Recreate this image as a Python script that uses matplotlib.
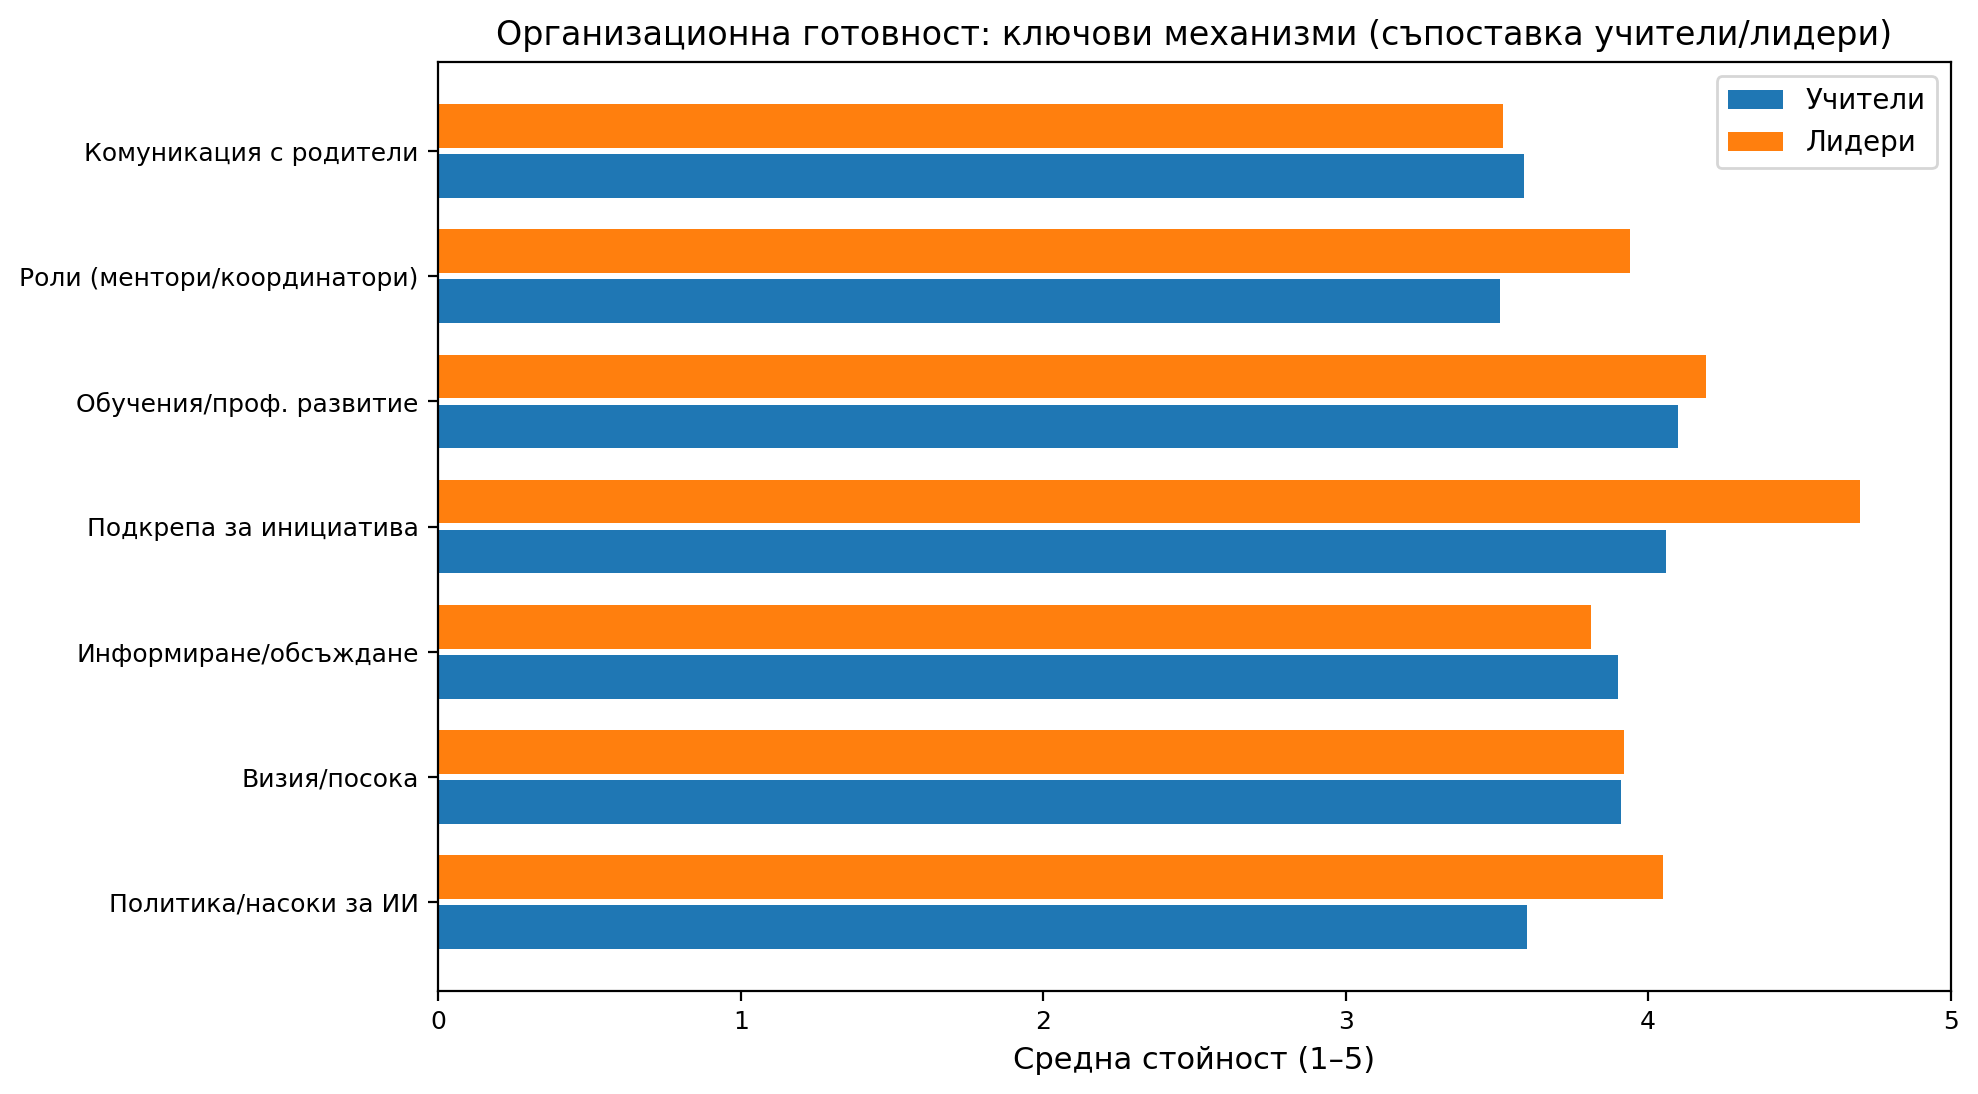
import matplotlib
matplotlib.use("Agg")
import matplotlib.pyplot as plt
import numpy as np

categories = [
    "Политика/насоки за ИИ",
    "Визия/посока",
    "Информиране/обсъждане",
    "Подкрепа за инициатива",
    "Обучения/проф. развитие",
    "Роли (ментори/координатори)",
    "Комуникация с родители",
]
teachers = [3.60, 3.91, 3.90, 4.06, 4.10, 3.51, 3.59]
leaders = [4.05, 3.92, 3.81, 4.70, 4.19, 3.94, 3.52]
series_labels = ["Учители", "Лидери"]

fig, ax = plt.subplots(figsize=(1978 / 200, 1094 / 200), dpi=200)
y = np.arange(len(categories))
h = 0.35
ax.barh(y - 0.2, teachers, height=h, color="#1f77b4", label=series_labels[0])
ax.barh(y + 0.2, leaders, height=h, color="#ff7f0e", label=series_labels[1])
ax.set_yticks(y)
ax.set_yticklabels(categories)
ax.set_xlim(0, 5)
ax.set_xlabel("Средна стойност (1–5)", fontsize=11)
ax.set_title("Организационна готовност: ключови механизми (съпоставка учители/лидери)", fontsize=12)
ax.tick_params(labelsize=9)
ax.legend(loc="upper right", fontsize=10)
fig.tight_layout(pad=0.7)
fig.savefig("out.png", dpi=200)
